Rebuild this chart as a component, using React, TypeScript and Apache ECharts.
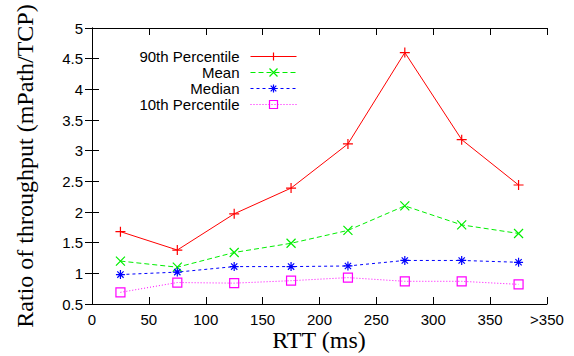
import React, { useEffect, useRef } from 'react';
import * as echarts from 'echarts';

const rtt = [25, 75, 125, 175, 225, 275, 325, 375];
const p90 = [1.68, 1.38, 1.97, 2.39, 3.11, 4.6, 3.18, 2.44];
const mean = [1.2, 1.1, 1.34, 1.49, 1.7, 2.1, 1.79, 1.65];
const median = [0.98, 1.02, 1.11, 1.11, 1.12, 1.21, 1.21, 1.18];
const p10 = [0.69, 0.85, 0.84, 0.88, 0.93, 0.87, 0.87, 0.82];
const names = ['90th Percentile', 'Mean', 'Median', '10th Percentile'];
const lastTickLabel = '>350';
const xTitle = 'RTT (ms)';
const yTitle = 'Ratio of throughput (mPath/TCP)';

const SANS = '"Liberation Sans", Arial, sans-serif';
const SERIF = '"Liberation Serif", "Times New Roman", serif';

const PLUS = 'path://M5,0L5,10M0,5L10,5';
const CROSS = 'path://M0,0L10,10M10,0L0,10';
const STAR = 'path://M5,0L5,10M0,5L10,5M1.5,1.5L8.5,8.5M8.5,1.5L1.5,8.5';
const SQUARE = 'path://M0,0L10,0L10,10L0,10Z';

function pairs(vals: number[]) {
  return rtt.map((x, i) => [x, vals[i]]);
}

export default function App() {
  const ref = useRef<HTMLDivElement>(null);
  useEffect(() => {
    const chart = echarts.init(ref.current!, null, { renderer: 'svg' });
    const axisLine = { show: true, lineStyle: { color: '#000', width: 1 } };
    const tick = { show: true, inside: true, length: 7, lineStyle: { color: '#000', width: 1 } };
    const mk = (name: string, vals: number[], color: string, symbol: string, size: number, type: any) => ({
      name,
      type: 'line',
      data: pairs(vals),
      symbol,
      symbolSize: size,
      showSymbol: true,
      lineStyle: { color, width: 1, type },
      itemStyle: { color: 'rgba(0,0,0,0)', borderColor: color, borderWidth: 1.2 },
      emphasis: { disabled: true },
      z: 3,
    });
    const legendTops = [44, 60, 76, 92];
    const option: any = {
      animation: false,
      grid: { left: 92, right: 27, top: 28, bottom: 52 },
      xAxis: [
        {
          type: 'value', min: 0, max: 400, interval: 50, position: 'bottom',
          axisLine, axisTick: tick, splitLine: { show: false },
          axisLabel: {
            margin: 8, color: '#000', fontFamily: SANS, fontSize: 15,
            formatter: (v: number) => (v === 400 ? lastTickLabel : String(v)),
          },
        },
        {
          type: 'value', min: 0, max: 400, interval: 50, position: 'top',
          axisLine, axisTick: tick, splitLine: { show: false }, axisLabel: { show: false },
        },
      ],
      yAxis: [
        {
          type: 'value', min: 0.5, max: 5, interval: 0.5, position: 'left',
          axisLine, axisTick: tick, splitLine: { show: false },
          axisLabel: { margin: 9, color: '#000', fontFamily: SANS, fontSize: 15 },
        },
        {
          type: 'value', min: 0.5, max: 5, interval: 0.5, position: 'right',
          axisLine, axisTick: tick, splitLine: { show: false }, axisLabel: { show: false },
        },
      ],
      legend: names.map((n, i) => ({
        data: [n],
        orient: 'vertical',
        right: 272,
        top: legendTops[i],
        align: 'right',
        itemWidth: 46,
        itemHeight: 10,
        selectedMode: false,
        lineStyle: { width: 1 },
        itemStyle: { borderWidth: 1.2 },
        textStyle: { color: '#000', fontFamily: SANS, fontSize: 15, padding: [0, 6, 0, 0] },
      })),
      series: [
        mk(names[0], p90, '#ff0000', PLUS, 10, 'solid'),
        mk(names[1], mean, '#00ee00', CROSS, 9, [5, 3]),
        mk(names[2], median, '#0000ff', STAR, 9, [3, 3]),
        mk(names[3], p10, '#ff00ff', SQUARE, 9, [1, 2]),
      ],
      graphic: [
        {
          type: 'text', x: 319, y: 340,
          style: { text: xTitle, font: `24px ${SERIF}`, fill: '#000', textAlign: 'center', textVerticalAlign: 'middle' },
        },
        {
          type: 'text', x: 25, y: 166, rotation: Math.PI / 2,
          style: { text: yTitle, font: `24px ${SERIF}`, fill: '#000', textAlign: 'center', textVerticalAlign: 'middle' },
        },
      ],
    };
    chart.setOption(option);
    return () => chart.dispose();
  }, []);
  return <div ref={ref} style={{ position: 'fixed', left: 0, top: 0, width: 574, height: 356, background: '#fff' }} />;
}
